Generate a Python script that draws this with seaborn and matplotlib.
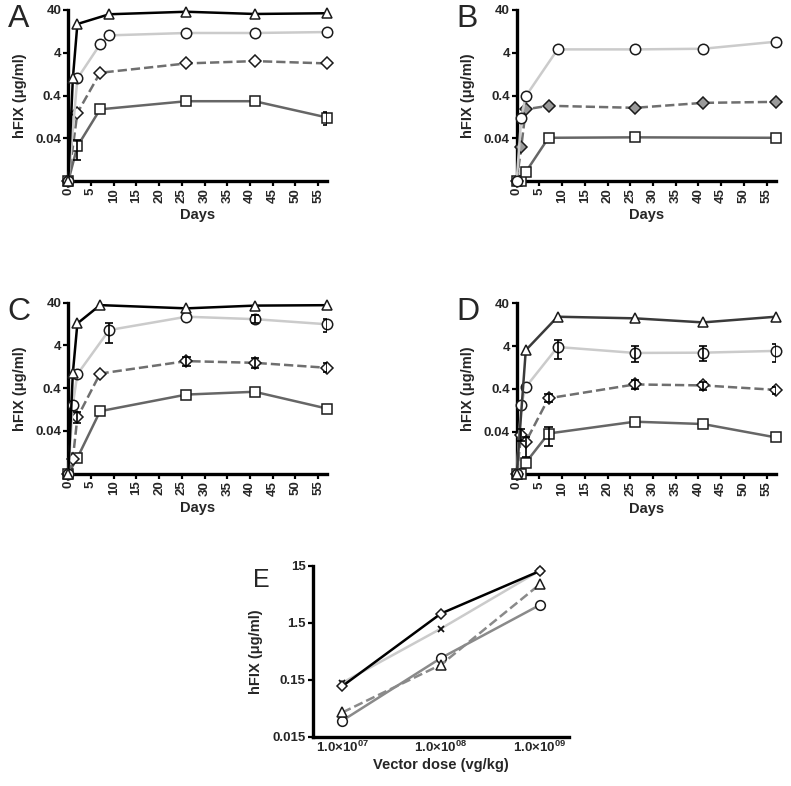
import numpy as np
import pandas as pd
import matplotlib
matplotlib.use("Agg")
import matplotlib.pyplot as plt
import seaborn as sns

# ---------------- data ----------------
# Panel A
A_tri_days = [0, 1, 2, 9, 26, 41, 57]
A_tri_vals = [0, 1.0, 18.8, 31.8, 36.4, 32.3, 33.6]
A_cir_days = [0, 2, 7, 9, 26, 41, 57]
A_cir_vals = [0, 1.0, 6.3, 10.2, 11.6, 11.6, 12.2]
A_dia_days = [0, 2, 7, 26, 41, 57]
A_dia_vals = [0, 0.157, 1.36, 2.25, 2.55, 2.25]
A_sq_days = [0, 2, 7, 26, 41, 57]
A_sq_vals = [0, 0.026, 0.19, 0.294, 0.294, 0.122]
A_err = [("sq", 2, 0.0122, 0.036), ("sq", 57, 0.081, 0.166)]

# Panel B
B_cir_days = [0, 1, 2, 9, 26, 41, 57]
B_cir_vals = [0, 0.122, 0.385, 4.79, 4.79, 4.96, 7.24]
B_dia_days = [0, 1, 2, 7, 26, 41, 57]
B_dia_vals = [0, 0.025, 0.19, 0.23, 0.206, 0.269, 0.284]
B_sq_days = [0, 1, 2, 7, 26, 57]
B_sq_vals = [0, 0, 0.0065, 0.041, 0.042, 0.041]
B_err = []

# Panel C
C_tri_days = [0, 1, 2, 7, 26, 41, 57]
C_tri_vals = [0, 0.9, 13.1, 35.1, 29.5, 34.2, 35.0]
C_cir_days = [0, 1, 2, 9, 26, 41, 57]
C_cir_vals = [0, 0.166, 0.85, 9.16, 18.8, 16.5, 12.5]
C_dia_days = [0, 1, 2, 7, 26, 41, 57]
C_dia_vals = [0, 0.009, 0.083, 0.88, 1.72, 1.57, 1.20]
C_sq_days = [0, 2, 7, 26, 41, 57]
C_sq_vals = [0, 0.0094, 0.116, 0.284, 0.33, 0.133]
C_err = [("cir", 9, 4.62, 13.1), ("cir", 41, 13.1, 20.5), ("cir", 57, 8.4, 16.3),
         ("dia", 2, 0.062, 0.111), ("dia", 26, 1.31, 2.17), ("dia", 41, 1.16, 1.99),
         ("dia", 57, 0.96, 1.52)]

# Panel D
D_tri_days = [0, 2, 9, 26, 41, 57]
D_tri_vals = [0, 3.2, 19.4, 17.8, 14.3, 19.4]
D_cir_days = [0, 1, 2, 9, 26, 41, 57]
D_cir_vals = [0, 0.17, 0.44, 3.8, 2.76, 2.8, 3.08]
D_dia_days = [0, 1, 2, 7, 26, 41, 57]
D_dia_vals = [0, 0.034, 0.023, 0.24, 0.506, 0.48, 0.378]
D_sq_days = [0, 1, 2, 7, 26, 41, 57]
D_sq_vals = [0, 0, 0.0075, 0.036, 0.068, 0.06, 0.0292]
D_err = [("cir", 9, 2.03, 5.69), ("cir", 26, 1.70, 3.96), ("cir", 41, 1.75, 3.96),
         ("cir", 57, 1.70, 4.58), ("dia", 1, 0.0243, 0.046), ("dia", 2, 0.0099, 0.0292),
         ("dia", 7, 0.194, 0.305), ("dia", 26, 0.40, 0.628), ("dia", 41, 0.38, 0.57),
         ("dia", 57, 0.305, 0.44), ("sq", 7, 0.0186, 0.05)]

# Panel E
E_dose = [1e7, 1e8, 1e9]
E_dia_vals = [0.116, 2.19, 12.2]
E_x_vals = [0.133, 1.19, 12.4]
E_tri_vals = [0.040, 0.276, 7.1]
E_cir_vals = [0.0287, 0.362, 3.08]

time_yticks = [0.04, 0.4, 4, 40]
time_yticklabels = ["0.04", "0.4", "4", "40"]
time_xticks = list(range(0, 60, 5))
E_yticks = [0.015, 0.15, 1.5, 15]
E_yticklabels = ["0.015", "0.15", "1.5", "15"]
E_xticklabels = [r"1.0×10$^{07}$", r"1.0×10$^{08}$", r"1.0×10$^{09}$"]

# ---------------- style ----------------
sns.set_style("ticks")
plt.rcParams["font.family"] = ["Liberation Sans", "DejaVu Sans"]
plt.rcParams["mathtext.fontset"] = "custom"
plt.rcParams["mathtext.rm"] = "Liberation Sans:bold"
plt.rcParams["mathtext.default"] = "rm"

W, H = 791, 786
fig = plt.figure(figsize=(W / 100, H / 100), dpi=100)


def box(left, top, width, height):
    return [left / W, 1 - (top + height) / H, width / W, height / H]


YMIN, YMAX = 0.004, 40
EDGE = "#1a1a1a"

styles = {
    "tri": dict(marker="^", color="#000000", ls="-", lw=1.8),
    "cir": dict(marker="o", color="#cbcbcb", ls="-", lw=1.8),
    "dia": dict(marker="D", color="#6f6f6f", ls="--", lw=1.8),
    "sq": dict(marker="s", color="#666666", ls="-", lw=1.8),
}
msizes = {"tri": 7, "cir": 7.5, "dia": 6, "sq": 7}


def style_axes(ax, size=9.5):
    sns.despine(ax=ax)
    for s in ("left", "bottom"):
        ax.spines[s].set_linewidth(2.4)
        ax.spines[s].set_color("black")
    ax.tick_params(axis="both", which="major", length=3.5, width=1.6,
                   direction="out", color="black", labelsize=size, pad=1.5)
    ax.tick_params(axis="both", which="minor", length=0)
    for lab in ax.get_xticklabels() + ax.get_yticklabels():
        lab.set_fontweight("bold")


def draw_time_panel(ax, series, errs, letter, tri_color=None, dia_face="white"):
    ax.set_yscale("log")
    for key, days, vals in series:
        st = dict(styles[key])
        if key == "tri" and tri_color:
            st["color"] = tri_color
        v = np.where(np.asarray(vals, float) <= 0, YMIN, vals)
        df = pd.DataFrame({"day": days, "val": v})
        face = dia_face if key == "dia" else "white"
        sns.lineplot(data=df, x="day", y="val", ax=ax, color=st["color"],
                     linestyle=st["ls"], linewidth=st["lw"], marker=st["marker"],
                     markersize=msizes[key], markerfacecolor=face,
                     markeredgecolor=EDGE, markeredgewidth=1.1,
                     clip_on=False, zorder=3 if key != "tri" else 4,
                     dashes=(4, 2.2) if st["ls"] == "--" else None,
                     errorbar=None, sort=False)
    for key, d, lo, hi in errs:
        ax.vlines(d, lo, hi, color="black", lw=1.2, zorder=5)
        ax.hlines([lo, hi], d - 0.9, d + 0.9, color="black", lw=1.2, zorder=5)
    ax.set_ylim(YMIN, YMAX)
    ax.set_xlim(0, 57)
    ax.set_yticks(time_yticks)
    ax.set_yticklabels(time_yticklabels)
    ax.yaxis.set_minor_locator(matplotlib.ticker.NullLocator())
    ax.set_xticks(time_xticks)
    ax.set_xticklabels([str(t) for t in time_xticks], rotation=90)
    ax.set_xlabel("Days", fontsize=10.5, fontweight="bold")
    ax.set_ylabel("hFIX (μg/ml)", fontsize=10.5, fontweight="bold")
    ax.xaxis.set_label_coords(0.5, -0.16)
    ax.yaxis.set_label_coords(-0.16, 0.5)
    style_axes(ax)
    ax.text(-0.19, 1.035, letter, transform=ax.transAxes, fontsize=23,
            ha="center", va="top")


axA = fig.add_axes(box(68.3, 10, 259, 171))
draw_time_panel(axA, [("sq", A_sq_days, A_sq_vals), ("dia", A_dia_days, A_dia_vals),
                      ("cir", A_cir_days, A_cir_vals), ("tri", A_tri_days, A_tri_vals)],
                A_err, "A")

axB = fig.add_axes(box(516.7, 10, 259, 171))
draw_time_panel(axB, [("sq", B_sq_days, B_sq_vals), ("dia", B_dia_days, B_dia_vals),
                      ("cir", B_cir_days, B_cir_vals)],
                B_err, "B", dia_face="#9a9a9a")

axC = fig.add_axes(box(68.3, 302.7, 259, 171))
draw_time_panel(axC, [("sq", C_sq_days, C_sq_vals), ("dia", C_dia_days, C_dia_vals),
                      ("cir", C_cir_days, C_cir_vals), ("tri", C_tri_days, C_tri_vals)],
                C_err, "C")

axD = fig.add_axes(box(516.7, 303.3, 259, 171))
draw_time_panel(axD, [("sq", D_sq_days, D_sq_vals), ("dia", D_dia_days, D_dia_vals),
                      ("cir", D_cir_days, D_cir_vals), ("tri", D_tri_days, D_tri_vals)],
                D_err, "D", tri_color="#3a3a3a")

# Panel E
axE = fig.add_axes(box(312.7, 566, 256.5, 170.7))
axE.set_xscale("log")
axE.set_yscale("log")
E_series = [
    (E_cir_vals, "o", "#8a8a8a", "-", 7),
    (E_tri_vals, "^", "#8a8a8a", "--", 7),
    (E_x_vals, "x", "#cbcbcb", "-", 5),
    (E_dia_vals, "D", "#000000", "-", 5.5),
]
for vals, mk, col, ls, ms in E_series:
    df = pd.DataFrame({"dose": E_dose, "val": vals})
    kw = dict(markerfacecolor="white", markeredgecolor=EDGE, markeredgewidth=1.1)
    if mk == "x":
        kw = dict(markeredgecolor="#111111", markeredgewidth=1.3)
    sns.lineplot(data=df, x="dose", y="val", ax=axE, color=col, linestyle=ls,
                 linewidth=1.8, marker=mk, markersize=ms,
                 dashes=(4, 2.2) if ls == "--" else None,
                 errorbar=None, clip_on=False, **kw)
axE.set_xlim(10 ** 6.7, 10 ** 9.3)
axE.set_ylim(0.015, 15)
axE.set_xticks(E_dose)
axE.set_xticklabels(E_xticklabels)
axE.set_yticks(E_yticks)
axE.set_yticklabels(E_yticklabels)
axE.xaxis.set_minor_locator(matplotlib.ticker.NullLocator())
axE.yaxis.set_minor_locator(matplotlib.ticker.NullLocator())
axE.set_xlabel("Vector dose (vg/kg)", fontsize=10.5, fontweight="bold")
axE.set_ylabel("hFIX (μg/ml)", fontsize=10.5, fontweight="bold")
axE.xaxis.set_label_coords(0.5, -0.125)
axE.yaxis.set_label_coords(-0.194, 0.5)
style_axes(axE)
axE.tick_params(axis="x", length=0, labelsize=9.5, pad=2)
axE.text(-0.2, 0.99, "E", transform=axE.transAxes, fontsize=18, ha="center", va="top")

fig.savefig("out.png", dpi=100)
